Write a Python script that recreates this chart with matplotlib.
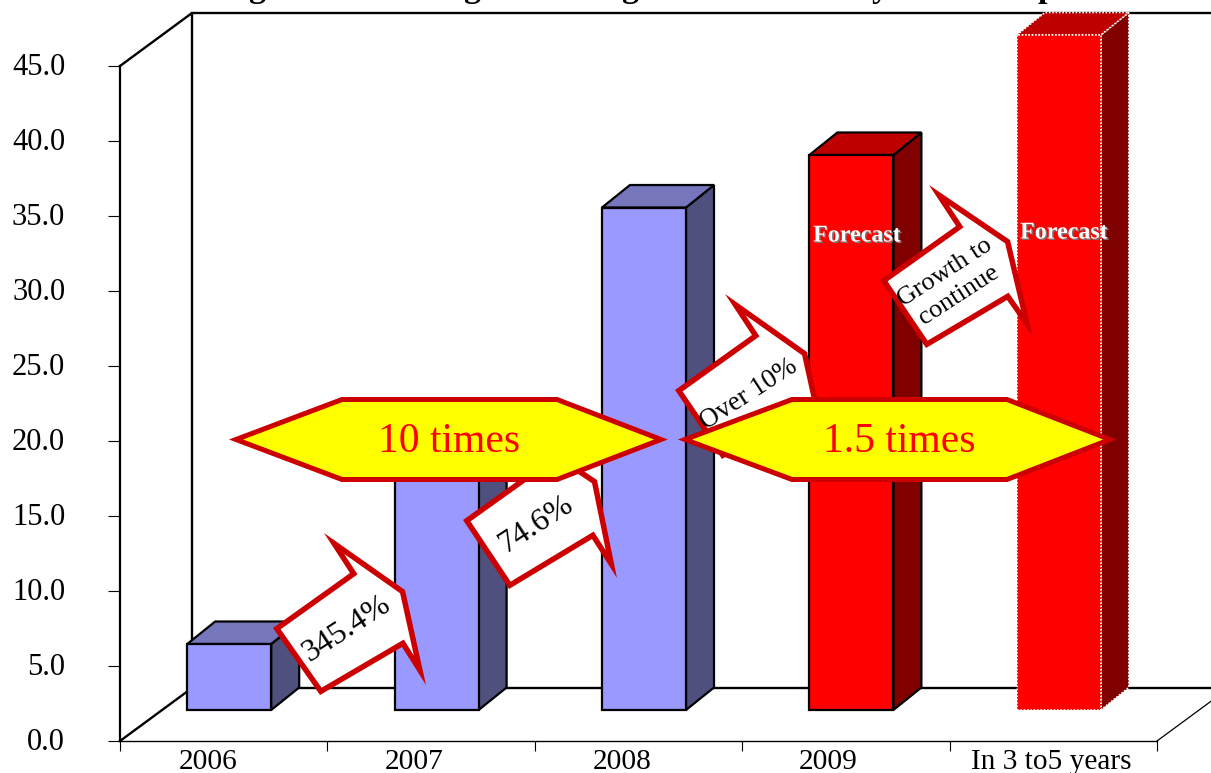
#!/usr/bin/env python3
# -*- coding: utf-8 -*-

import matplotlib
matplotlib.use('Agg')
import numpy as np
import matplotlib.pyplot as plt
from matplotlib.patches import Polygon
from matplotlib.transforms import ScaledTranslation
from matplotlib import patheffects as pe

plt.rcParams['font.family'] = ['Liberation Serif', 'DejaVu Serif']

categories = ['2006', '2007', '2008', '2009', 'In 3 to5 years']
values = [4.4, 19.2, 33.5, 37.0, 45.0]
forecast = [False, False, False, True, True]
yticks = [0, 5, 10, 15, 20, 25, 30, 35, 40, 45]

W, H = 1211, 773
fig = plt.figure(figsize=(W / 100, H / 100), dpi=100)

# front plane of the fake 3D box
left, right, bottom, top = 120, 1157, 741, 66
ax = fig.add_axes([left / W, 1 - bottom / H, (right - left) / W, (bottom - top) / H])
ax.set_xlim(0, 5)
ax.set_ylim(0, 45)
ax.patch.set_alpha(0)
px_x = (right - left) / 5.0
px_y = (bottom - top) / 45.0

# depth of the box and of the bars, in data units
wall_dx, wall_dy = 72 / px_x, 53 / px_y
bar_dx, bar_dy = 28 / px_x, 22.5 / px_y
bar_w = 84 / px_x
bar_base = 31 / px_y
bar_shift = 5.5 / px_x

for s in ['top', 'right']:
    ax.spines[s].set_visible(False)
ax.spines['left'].set_linewidth(1.6)
ax.spines['bottom'].set_linewidth(1.0)

ax.set_yticks(yticks)
ax.set_yticklabels(['%.1f' % v for v in yticks], fontsize=22, va='center')
ax.tick_params(axis='y', length=8.5, width=0.8, pad=31)
nudge = ScaledTranslation(0, -1.5 / 100, fig.dpi_scale_trans)
for lab in ax.get_yticklabels():
    lab.set_transform(lab.get_transform() + nudge)
ax.set_xticks(range(6))
ax.set_xticklabels([])
ax.tick_params(axis='x', length=7, width=0.8)
ax.set_xticks([0.424, 1.417, 2.42, 3.415, 4.49], minor=True)
ax.set_xticklabels(categories, minor=True, fontsize=21.2)
ax.tick_params(axis='x', which='minor', length=0, pad=5.5)

# back wall and floor lines
wall = dict(color='k', lw=1.7, clip_on=False, zorder=1, solid_capstyle='projecting')
ax.plot([0, wall_dx, wall_dx], [45, 45 + wall_dy, wall_dy], **wall)
ax.plot([wall_dx, 5 + wall_dx], [45 + wall_dy, 45 + wall_dy], **wall)
ax.plot([0, wall_dx, 5 + wall_dx], [0, wall_dy, wall_dy], **wall)
ax.plot([5, 5 + wall_dx], [0, wall_dy], color='k', lw=0.9, clip_on=False, zorder=1)

# bars
for i, v in enumerate(values):
    x0 = i + 0.5 + bar_shift - bar_w / 2
    x1 = x0 + bar_w
    y0 = bar_base
    y1 = bar_base + v
    if forecast[i]:
        front, side, cap = '#FF0000', '#800000', '#BF0000'
    else:
        front, side, cap = '#9999FF', '#50507F', '#7676BD'
    if i == 4:
        edge, ls, lw = 'white', (0, (1, 1)), 1.2
    else:
        edge, ls, lw = 'k', '-', 1.6
    kw = dict(edgecolor=edge, linestyle=ls, linewidth=lw, clip_on=False, zorder=2, joinstyle='miter')
    ax.add_patch(Polygon([(x1, y0), (x1 + bar_dx, y0 + bar_dy), (x1 + bar_dx, y1 + bar_dy), (x1, y1)], facecolor=side, **kw))
    ax.add_patch(Polygon([(x0, y1), (x0 + bar_dx, y1 + bar_dy), (x1 + bar_dx, y1 + bar_dy), (x1, y1)], facecolor=cap, **kw))
    ax.add_patch(Polygon([(x0, y0), (x1, y0), (x1, y1), (x0, y1)], facecolor=front, **kw))

# overlay in pixel coordinates for the hand drawn callouts
ov = fig.add_axes([0, 0, 1, 1])
ov.set_xlim(0, W)
ov.set_ylim(H, 0)
ov.axis('off')
ov.patch.set_alpha(0)

RED = '#CC0000'


def inset(pts, d):
    # shrink a polygon by d, keeps the long spikes agg would cut off as a stroke
    p = np.array(pts, dtype=float)
    n = len(p)
    area = 0.5 * sum(p[i][0] * p[(i + 1) % n][1] - p[(i + 1) % n][0] * p[i][1] for i in range(n))
    sign = 1 if area > 0 else -1
    out = []
    for i in range(n):
        a, b, c = p[i - 1], p[i], p[(i + 1) % n]
        u = (b - a) / np.linalg.norm(b - a)
        v = (c - b) / np.linalg.norm(c - b)
        nu = sign * np.array([-u[1], u[0]])
        nv = sign * np.array([-v[1], v[0]])
        m = np.array([u, -v]).T
        t = np.linalg.solve(m, (b + d * nv) - (b + d * nu))
        out.append(b + d * nu + t[0] * u)
    return out


arrows = [
    ([(273, 628), (350, 573), (324, 533), (405, 590), (426, 685), (402, 647), (320, 695)],
     '345.4%', (347, 629), 23, 1.0),
    ([(463, 520), (540, 465), (515, 425), (597, 480), (617, 578), (592, 539), (509, 589)],
     '74.6%', (536, 524), 23, 1.0),
    ([(675, 390), (752, 335), (725, 294), (807, 352), (828, 447), (804, 409), (722, 459)],
     'Over 10%', (749, 394), 19.5, 1.0),
    ([(880, 280), (956, 226), (929, 185), (1010, 240), (1033, 337), (1007, 300), (926, 348)],
     'Growth to\ncontinue', (952, 284), 19, 1.3),
]
for pts, label, pos, size, spacing in arrows:
    ov.add_patch(Polygon(pts, facecolor=RED, edgecolor='none', zorder=3))
    ov.add_patch(Polygon(inset(pts, 5.5), facecolor='white', edgecolor='none', zorder=3))
    ov.text(pos[0], pos[1], label, rotation=33, rotation_mode='anchor', ha='center', va='center',
            fontsize=size, color='k', zorder=4, linespacing=spacing)

# yellow double headed hexagons
hexes = [
    ([(342, 399.5), (557, 399.5), (661, 439.5), (557, 479.5), (342, 479.5), (236, 439.5)], '10 times', (449, 442)),
    ([(792, 399.5), (1007, 399.5), (1110, 439.5), (1007, 479.5), (792, 479.5), (685, 439.5)], '1.5 times', (899, 442)),
]
for pts, label, pos in hexes:
    ov.add_patch(Polygon(pts, facecolor='#FFFF00', edgecolor=RED, linewidth=3.6, joinstyle='miter', zorder=5))
    ov.text(pos[0], pos[1], label, ha='center', va='center', fontsize=30, color='#FF0000', zorder=6)

# forecast labels on the red bars
shadow = [pe.SimplePatchShadow(offset=(1, -1), shadow_rgbFace='#777777', alpha=1.0), pe.Normal()]
for x, y in [(857, 236), (1064, 233)]:
    ov.text(x, y, 'Forecast', ha='center', va='center', fontsize=17.3, fontweight='bold', color='white',
            zorder=4, path_effects=shadow)

# only the descenders of the heading fit on the canvas
for x, ch in [(257, 'g'), (472, 'g'), (630, 'g'), (880, 'y'), (1047, 'p')]:
    ov.text(x, -3.5, ch, ha='center', va='baseline', fontsize=24.5, fontweight='bold', color='k', zorder=1)

fig.savefig('out.png', dpi=100)
